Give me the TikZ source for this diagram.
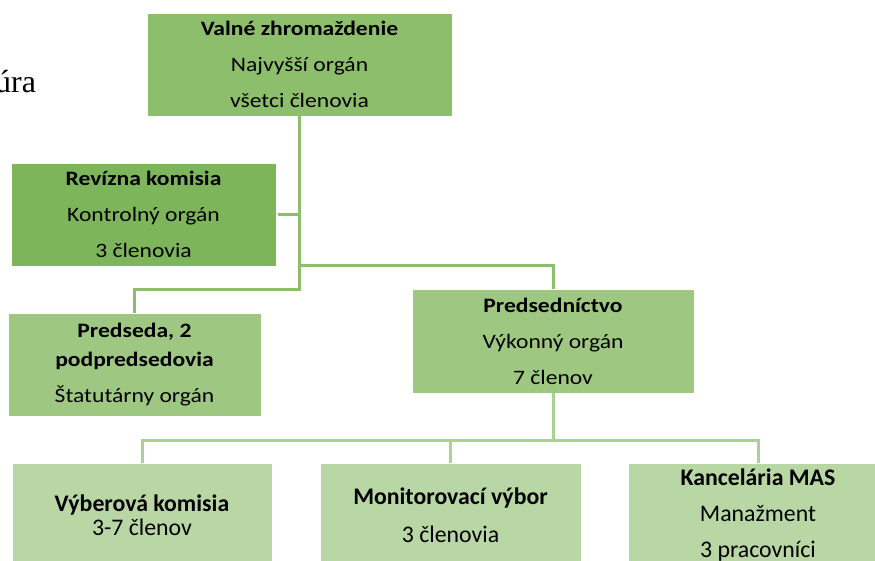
\documentclass[tikz,border=0pt]{standalone}
\usepackage{fontspec}
\setmainfont{Carlito}
\newfontfamily\widefont[FakeStretch=1.15]{Carlito}
\newfontfamily\serifft{Liberation Serif}
\definecolor{gTop}{RGB}{140,190,108}
\definecolor{gDark}{RGB}{124,181,90}
\definecolor{gMid}{RGB}{158,200,130}
\definecolor{gLight}{RGB}{184,215,165}
\definecolor{lnMid}{RGB}{140,190,108}
\definecolor{lnLight}{RGB}{172,209,150}
\tikzset{
  box/.style={rectangle, draw=white, line width=0.6pt, inner sep=0pt, align=center, text=black},
  upper/.style={font=\widefont\fontsize{20.5}{36}\selectfont},
  lower/.style={font=\fontsize{23.8}{36}\selectfont},
  conn/.style={line width=3pt},
}
\begin{document}
\begin{tikzpicture}[x=1pt,y=-1pt]
\useasboundingbox (0,0) rectangle (875,560);
\node[anchor=base west, font=\serifft\fontsize{32}{36}\selectfont, inner sep=0pt] (title) at (-5,92) {úra};
\node[box, upper, fill=gTop, minimum width=305, minimum height=103] (vz) at (299.5,64.5)
  {\textbf{Valné zhromaždenie}\\Najvyšší orgán\\všetci členovia};
\node[box, upper, fill=gDark, minimum width=265, minimum height=103] (rk) at (143.5,214.5)
  {\textbf{Revízna komisia}\\Kontrolný orgán\\3 členovia};
\node[box, upper, fill=gMid, minimum width=253, minimum height=103] (ps) at (134.5,364.5)
  {\textbf{Predseda, 2}\\[-7pt]\textbf{podpredsedovia}\\Štatutárny orgán};
\node[box, upper, fill=gMid, minimum width=282, minimum height=104] (pr) at (553,341)
  {\textbf{Predsedníctvo}\\Výkonný orgán\\7 členov};
\node[box, lower, fill=gLight, minimum width=260, minimum height=103] (b1) at (142,515)
  {\textbf{Výberová komisia}\\[-12pt]3-7 členov};
\node[box, lower, fill=gLight, minimum width=261, minimum height=103] (b2) at (450.5,515)
  {\textbf{Monitorovací výbor}\\[2pt]3 členovia};
\node[box, lower, fill=gLight, minimum width=260, minimum height=103] (b3) at (758,515)
  {\textbf{Kancelária MAS}\\Manažment\\3 pracovníci};
\coordinate (j1) at (299.5,289);
\coordinate (j2) at (299.5,265);
\coordinate (j3) at (553,440);
\draw[conn, lnMid] (vz.south) -- (j1) -| (ps.north);
\draw[conn, lnMid] (rk.east) ++(2,0) -- (rk.east -| vz.south);
\draw[conn, lnMid] (j2) -| (pr.north);
\draw[conn, lnLight] (pr.south) -- (j3);
\draw[conn, lnLight] (j3) -| (b1.north);
\draw[conn, lnLight] (j3) -| (b3.north);
\draw[conn, lnLight] (b2.north) -- (b2.north |- j3);
\end{tikzpicture}
\end{document}
